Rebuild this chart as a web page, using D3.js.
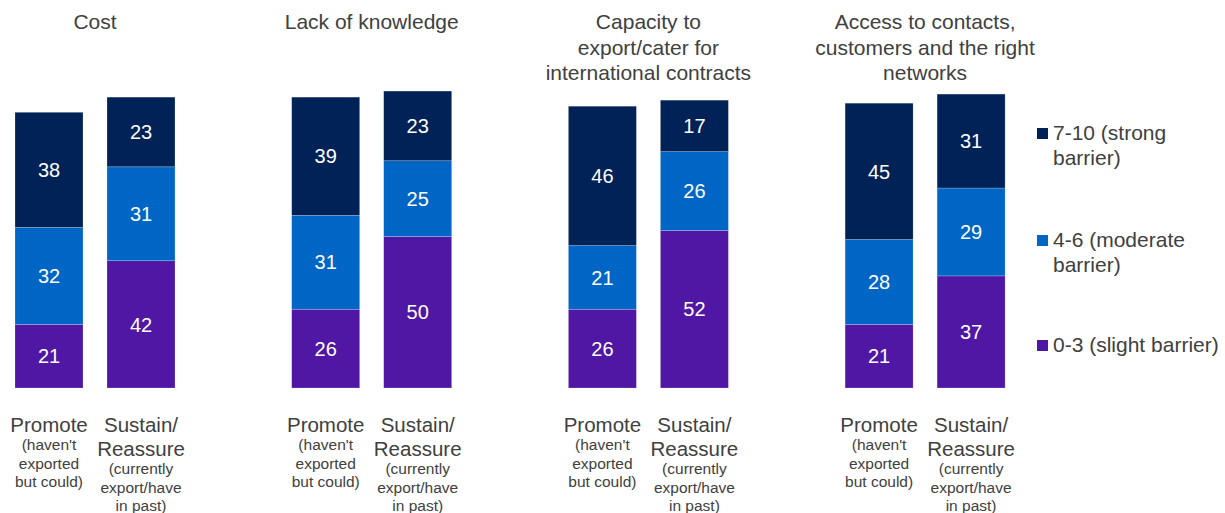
<!DOCTYPE html>
<html>
<head>
<meta charset="utf-8">
<script src="https://d3js.org/d3.v7.min.js"></script>
<style>
  body { margin: 0; background: #fff; }
  text { font-family: "Liberation Sans", Arial, sans-serif; }
</style>
</head>
<body>
<div class="chart"></div>
<script>
let topics = ["Cost", "Lack of knowledge", "Capacity", "Access"];
let topicTitles = [
    ["Cost"],
    ["Lack of knowledge"],
    ["Capacity to", "export/cater for", "international contracts"],
    ["Access to contacts,", "customers and the right", "networks"]
];
let groups = ["Promote", "Sustain"];
let groupLabels = [
    { main: ["Promote"], sub: ["(haven't", "exported", "but could)"] },
    { main: ["Sustain/", "Reassure"], sub: ["(currently", "export/have", "in past)"] }
];
let keys = ["slight", "moderate", "strong"];
let keyLabels = {
    strong: ["7-10 (strong", "barrier)"],
    moderate: ["4-6 (moderate", "barrier)"],
    slight: ["0-3 (slight barrier)"]
};

let promoteStrong = [38, 39, 46, 45];
let promoteModerate = [32, 31, 21, 28];
let promoteSlight = [21, 26, 26, 21];
let sustainStrong = [23, 23, 17, 31];
let sustainModerate = [31, 25, 26, 29];
let sustainSlight = [42, 50, 52, 37];

let data = [];
topics.forEach(function (t, i) {
    data.push({ topic: t, group: "Promote", strong: promoteStrong[i], moderate: promoteModerate[i], slight: promoteSlight[i] });
    data.push({ topic: t, group: "Sustain", strong: sustainStrong[i], moderate: sustainModerate[i], slight: sustainSlight[i] });
});

let svg = d3
    .select(".chart")
    .append("svg")
    .attr("width", 1225)
    .attr("height", 513)
    .style("background-color", "white");

let x0 = d3
    .scaleBand()
    .domain(topics)
    .range([15, 15 + 4 * 276.7]);

let x1 = d3
    .scaleBand()
    .domain(groups)
    .range([0, 160])
    .paddingInner(24 / 92);

let y = d3
    .scaleLinear()
    .domain([0, 100])
    .range([388, 85]);

let z = d3
    .scaleOrdinal()
    .domain(keys)
    .range(["#4F17A3", "#0066C5", "#002257"]);

let textColor = "#404040";

let series = d3.stack().keys(keys)(data);

let layer = svg
    .append("g")
    .selectAll("g")
    .data(series)
    .enter()
    .append("g")
    .attr("fill", function (d) { return z(d.key); });

layer
    .selectAll("rect")
    .data(function (d) { return d; })
    .enter()
    .append("rect")
    .attr("x", function (d) { return x0(d.data.topic) + x1(d.data.group); })
    .attr("y", function (d) { return y(d[1]); })
    .attr("width", x1.bandwidth())
    .attr("height", function (d) { return y(d[0]) - y(d[1]); })
    .style("stroke", "rgba(255,255,255,0.35)")
    .style("stroke-width", 0.6);

layer
    .selectAll("text")
    .data(function (d) { return d; })
    .enter()
    .append("text")
    .attr("x", function (d) { return x0(d.data.topic) + x1(d.data.group) + x1.bandwidth() / 2; })
    .attr("y", function (d) { return (y(d[0]) + y(d[1])) / 2; })
    .attr("dy", "0.36em")
    .attr("text-anchor", "middle")
    .style("fill", "white")
    .style("font-size", 20)
    .text(function (d) { return d[1] - d[0]; });

// panel titles
topics.forEach(function (t, i) {
    let cx = x0(t) + 80;
    let title = svg.append("text")
        .attr("text-anchor", "middle")
        .style("fill", textColor)
        .style("font-size", 21);
    topicTitles[i].forEach(function (line, j) {
        title.append("tspan")
            .attr("x", cx)
            .attr("y", 29 + j * 25.5)
            .text(line);
    });

    // category labels under bars
    groups.forEach(function (g, k) {
        let bx = x0(t) + x1(g) + x1.bandwidth() / 2;
        let lab = groupLabels[k];
        lab.main.forEach(function (line, j) {
            svg.append("text")
                .attr("x", bx)
                .attr("y", 432 + j * 24)
                .attr("text-anchor", "middle")
                .style("fill", textColor)
                .style("font-size", 20.5)
                .text(line);
        });
        let subStart = 431 + (lab.main.length - 1) * 24 + 19;
        lab.sub.forEach(function (line, j) {
            svg.append("text")
                .attr("x", bx)
                .attr("y", subStart + j * 18.5)
                .attr("text-anchor", "middle")
                .style("fill", textColor)
                .style("font-size", 15.5)
                .text(line);
        });
    });
});

// legend
let legendY = { strong: 133, moderate: 240, slight: 345 };
let legend = svg
    .append("g")
    .selectAll("g")
    .data(keys.slice().reverse())
    .enter()
    .append("g")
    .attr("transform", function (d) { return "translate(1037," + legendY[d] + ")"; });

legend
    .append("rect")
    .attr("x", 0)
    .attr("y", -5)
    .attr("width", 11)
    .attr("height", 11)
    .attr("fill", z);

legend
    .append("text")
    .style("fill", textColor)
    .style("font-size", 21)
    .each(function (d) {
        let t = d3.select(this);
        keyLabels[d].forEach(function (line, j) {
            t.append("tspan")
                .attr("x", 16)
                .attr("y", 7 + j * 25)
                .text(line);
        });
    });
</script>
</body>
</html>
